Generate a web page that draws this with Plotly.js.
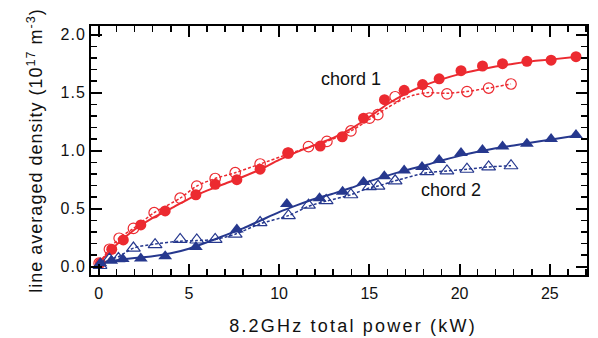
<!DOCTYPE html>
<html><head><meta charset="utf-8">
<script src="https://cdn.plot.ly/plotly-3.0.1.min.js"></script>
<style>
html,body{margin:0;padding:0;background:#fff;}
#chart{width:598px;height:338px;}
#chart .xtitle{letter-spacing:2.2px;transform:translateX(14px);}
#chart .ytitle{letter-spacing:1px;}
#chart .ytick text{letter-spacing:1px;}
</style>
</head><body><div id="chart"></div>
<script>
// chord 1, filled circles
const c1x = [0.1, 0.73, 1.37, 2.34, 3.69, 5.39, 6.46, 7.66, 8.95, 10.5, 12.28, 13.5, 14.68, 15.84, 16.93, 17.95, 18.87, 20.08, 21.27, 22.38, 23.73, 25.07, 26.45];
const c1y = [0.03, 0.15, 0.23, 0.36, 0.48, 0.62, 0.71, 0.75, 0.84, 0.98, 1.04, 1.12, 1.28, 1.44, 1.52, 1.57, 1.62, 1.69, 1.73, 1.75, 1.77, 1.78, 1.81];
// chord 1, open circles
const o1x = [0.03, 0.6, 1.14, 1.93, 3.08, 4.52, 5.44, 6.46, 7.57, 8.95, 10.5, 11.63, 12.65, 13.98, 15.01, 15.47, 16.43, 18.23, 19.3, 20.41, 21.61, 22.85];
const o1y = [0.03, 0.15, 0.245, 0.33, 0.465, 0.59, 0.695, 0.76, 0.81, 0.885, 0.98, 1.035, 1.08, 1.17, 1.28, 1.31, 1.465, 1.51, 1.49, 1.51, 1.54, 1.575];
// chord 2, filled triangles
const c2x = [0.1, 0.7, 1.34, 2.34, 3.69, 5.39, 7.66, 10.43, 12.24, 13.52, 14.68, 15.83, 16.93, 17.92, 18.87, 20.08, 21.27, 22.38, 23.73, 25.07, 26.45];
const c2y = [0.03, 0.05, 0.065, 0.07, 0.09, 0.17, 0.32, 0.54, 0.59, 0.645, 0.73, 0.78, 0.83, 0.86, 0.92, 0.98, 1.005, 1.035, 1.06, 1.10, 1.135];
// chord 2, open triangles
const o2x = [0.08, 0.6, 1.1, 1.93, 3.13, 4.52, 5.44, 6.46, 7.57, 8.95, 10.52, 11.63, 12.61, 13.98, 15.01, 15.48, 16.43, 18.2, 19.3, 20.41, 21.61, 22.85];
const o2y = [0.01, 0.065, 0.07, 0.16, 0.19, 0.235, 0.23, 0.235, 0.28, 0.38, 0.44, 0.53, 0.57, 0.62, 0.69, 0.695, 0.74, 0.82, 0.825, 0.84, 0.86, 0.87];

// curves
const f1x = [0, 0.5, 1, 2, 3, 4, 5, 6, 7, 8, 9, 10, 11, 12, 13, 14, 15, 16, 17, 18, 19, 20, 21, 22, 23, 24, 25, 26.5];
const f1y = [0.03, 0.11, 0.19, 0.32, 0.42, 0.5, 0.585, 0.655, 0.715, 0.775, 0.84, 0.92, 0.99, 1.05, 1.11, 1.19, 1.29, 1.4, 1.49, 1.56, 1.615, 1.66, 1.695, 1.725, 1.75, 1.77, 1.785, 1.81];
const d1x = [0.03, 0.6, 1.14, 1.93, 3.08, 4.52, 5.44, 6.46, 7.57, 8.95, 10.5, 11.63, 12.65, 13.98, 15.0, 15.5, 16.0, 16.5, 17.0, 17.5, 18.2, 19.3, 20.4, 21.6, 22.85];
const d1y = [0.03, 0.15, 0.245, 0.33, 0.465, 0.59, 0.695, 0.76, 0.81, 0.885, 0.97, 1.03, 1.08, 1.17, 1.27, 1.32, 1.37, 1.415, 1.455, 1.48, 1.5, 1.495, 1.51, 1.54, 1.575];
const f2x = [0, 1, 2, 3, 4, 5, 6, 7, 8, 9, 10, 11, 12, 13, 14, 15, 16, 17, 18, 19, 20, 21, 22, 23, 24, 25, 26.5];
const f2y = [0.03, 0.055, 0.075, 0.09, 0.115, 0.155, 0.21, 0.27, 0.33, 0.4, 0.47, 0.53, 0.585, 0.63, 0.68, 0.735, 0.785, 0.83, 0.87, 0.915, 0.955, 0.99, 1.02, 1.045, 1.07, 1.095, 1.13];
const d2x = [0.08, 0.6, 1.1, 1.93, 3.13, 4.52, 5.44, 6.46, 7.57, 8.95, 10.52, 11.63, 12.61, 13.98, 15.01, 15.48, 16.43, 18.2, 19.3, 20.41, 21.61, 22.85];
const d2y = [0.01, 0.06, 0.085, 0.16, 0.195, 0.22, 0.225, 0.235, 0.28, 0.37, 0.44, 0.52, 0.565, 0.62, 0.68, 0.695, 0.74, 0.81, 0.825, 0.84, 0.86, 0.87];

const labels = ["chord 1", "chord 2"];
const labelX = [14.0, 19.55];
const labelY = [1.62, 0.66];

const RED = "#ec2a30", BLUE = "#26388e";
const FONT = "Liberation Sans, Arial, sans-serif";

const traces = [
  {x: f1x, y: f1y, mode: "lines", line: {color: RED, width: 2, shape: "spline", smoothing: 0.8}, hoverinfo: "skip"},
  {x: d1x, y: d1y, mode: "lines", line: {color: RED, width: 1.5, dash: "3px,2px", shape: "spline", smoothing: 0.8}, hoverinfo: "skip"},
  {x: f2x, y: f2y, mode: "lines", line: {color: BLUE, width: 2, shape: "spline", smoothing: 0.8}, hoverinfo: "skip"},
  {x: d2x, y: d2y, mode: "lines", line: {color: BLUE, width: 1.5, dash: "3px,2px", shape: "spline", smoothing: 0.8}, hoverinfo: "skip"},
  {x: o1x, y: o1y, mode: "markers", marker: {symbol: "circle-open", size: 10.5, color: RED, line: {width: 1.2}}},
  {x: c1x, y: c1y, mode: "markers", marker: {symbol: "circle", size: 11, color: RED}},
  {x: o2x, y: o2y, mode: "markers", marker: {symbol: "triangle-up-open", size: 12, color: BLUE, line: {width: 1.2}}},
  {x: c2x, y: c2y, mode: "markers", marker: {symbol: "triangle-up", size: 12, color: BLUE}}
];

const axisCommon = {
  showline: true, linecolor: "#000", linewidth: 2, mirror: "allticks",
  ticks: "inside", ticklen: 11, tickwidth: 2, tickcolor: "#000",
  showgrid: false, zeroline: false,
  tickfont: {family: FONT, size: 16, color: "#111"}
};

const layout = {
  width: 598, height: 338,
  margin: {l: 91, r: 11, t: 26, b: 63},
  paper_bgcolor: "#fff", plot_bgcolor: "#fff",
  showlegend: false,
  font: {family: FONT, color: "#111"},
  xaxis: Object.assign({}, axisCommon, {
    range: [-0.42, 27.06], dtick: 5, tick0: 0, ticklabelstandoff: 3,
    minor: {dtick: 1, ticks: "inside", ticklen: 6, tickwidth: 1.5, tickcolor: "#000"},
    title: {text: "8.2GHz total power (kW)", font: {family: FONT, size: 18, color: "#111"}, standoff: 18}
  }),
  yaxis: Object.assign({}, axisCommon, {
    range: [-0.072, 2.075], dtick: 0.5, tick0: 0, tickformat: ".1f",
    minor: {dtick: 0.1, ticks: "inside", ticklen: 6, tickwidth: 1.5, tickcolor: "#000"},
    title: {text: "line averaged density (10<sup>17</sup> m<sup>-3</sup>)", font: {family: FONT, size: 18, color: "#111"}, standoff: 16}
  }),
  annotations: labels.map((t, i) => ({
    x: labelX[i], y: labelY[i], xref: "x", yref: "y", text: t, showarrow: false,
    font: {family: FONT, size: 18, color: "#111"}
  }))
};

Plotly.newPlot("chart", traces, layout, {displayModeBar: false, staticPlot: true});
</script>
</body></html>
